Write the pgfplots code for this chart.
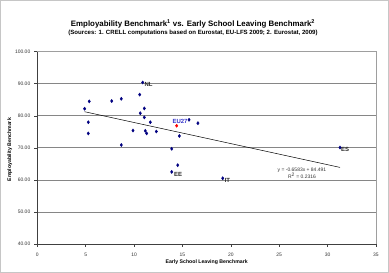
\documentclass[border=0pt]{standalone}
\usepackage{fontspec}
\setmainfont{Liberation Sans}
\usepackage{pgfplots}
\pgfplotsset{compat=1.18}
\definecolor{navy}{HTML}{000080}
\definecolor{eublue}{HTML}{3333CC}
\definecolor{gridgray}{HTML}{868686}
\definecolor{ticktext}{HTML}{333333}

% member states: early school leaving (x) vs employability (y)
\pgfplotstableread{
x      y
4.89   82.2
5.37   84.5
5.27   78.0
5.27   74.5
7.69   84.6
8.68   85.3
8.68   70.9
9.89   75.4
10.58  86.6
10.64  80.8
11.06  82.3
11.06  79.5
11.68  78.0
11.16  75.3
11.30  74.5
12.30  75.1
13.89  69.7
14.68  73.7
14.51  64.6
13.89  62.5
15.68  78.75
16.60  77.7
10.89  90.4
31.28  70.1
19.16  60.5
}\members

\pgfplotstableread{
x      y
14.40  76.9
}\eutotal

% linear trend y = -0.6583x + 84.491 over the data range
\pgfplotstableread{
x      y
4.89   81.272
31.28  63.899
}\trend

\begin{document}
\begin{tikzpicture}[x=1bp,y=1bp]
\useasboundingbox (0,0) rectangle (389,273);
\draw[gray!45, line width=0.7bp] (0.4,0.4) rectangle (388.2,272.6);
\node[font=\bfseries\fontsize{7.9}{9}\selectfont] at (193,248.7)
  {Employability Benchmark\textsuperscript{1} vs. Early School Leaving Benchmark\textsuperscript{2}};
\node[font=\bfseries\fontsize{6.1}{7}\selectfont] at (193,240.3)
  {(Sources: 1. CRELL computations based on Eurostat, EU-LFS 2009; 2. Eurostat, 2009)};
\begin{axis}[
  at={(37.3bp,29bp)}, anchor=south west,
  width=338.7bp, height=192.3bp, scale only axis,
  xmin=0, xmax=35, ymin=40, ymax=100,
  xtick={0,5,...,35}, ytick={40,50,...,100},
  axis x line*=bottom, axis y line*=left,
  axis line style={-, draw=black!75, line width=0.6bp},
  ymajorgrids, major grid style={gridgray, line width=0.7bp},
  tick align=outside, major tick length=3bp,
  tick style={black!75, line width=0.5bp},
  /pgf/number format/assume math mode=true,
  yticklabel={\pgfmathprintnumber[fixed,fixed zerofill,precision=2]{\tick}},
  ticklabel style={font=\fontsize{5}{6}\selectfont, text=ticktext},
  xticklabel style={yshift=-2.5bp},
  yticklabel style={xshift=-0.5bp},
  xlabel={Early School Leaving Benchmark},
  ylabel={Employability Benchmark},
  label style={font=\bfseries\fontsize{5.2}{6}\selectfont},
  xlabel style={at={(axis description cs:0.5,-0.097)}, anchor=center},
  ylabel style={at={(axis description cs:-0.081,0.49)}, anchor=center},
  clip=false,
  after end axis/.code={
    \draw[gridgray!80, line width=0.6bp] (rel axis cs:0,1) -- (rel axis cs:1,1) -- (rel axis cs:1,0);
  },
]
\addplot[black, line width=0.5bp] table[x=x,y=y] {\trend};
\addplot[only marks, mark=diamond*, mark size=1.6bp, navy] table[x=x,y=y] {\members};
\addplot[only marks, mark=diamond*, mark size=1.6bp, red] table[x=x,y=y] {\eutotal};
\begin{scope}[font=\bfseries\fontsize{6}{7}\selectfont]
\node[text=black!85] at (axis cs:11.5,89.7) {NL};
\node[text=eublue] at (axis cs:14.75,78.2) {EU27};
\node[text=black!85] at (axis cs:14.56,61.55) {EE};
\node[text=black!85] at (axis cs:31.82,69.4) {ES};
\node[text=black!85] at (axis cs:19.65,59.7) {IT};
\end{scope}
\node[font=\fontsize{5}{6}\selectfont, text=ticktext, align=center] at (axis cs:27.35,62.1)
  {y = -0.6583x + 84.491\\[-1bp]R\textsuperscript{2} = 0.2316};
\end{axis}
\end{tikzpicture}
\end{document}
